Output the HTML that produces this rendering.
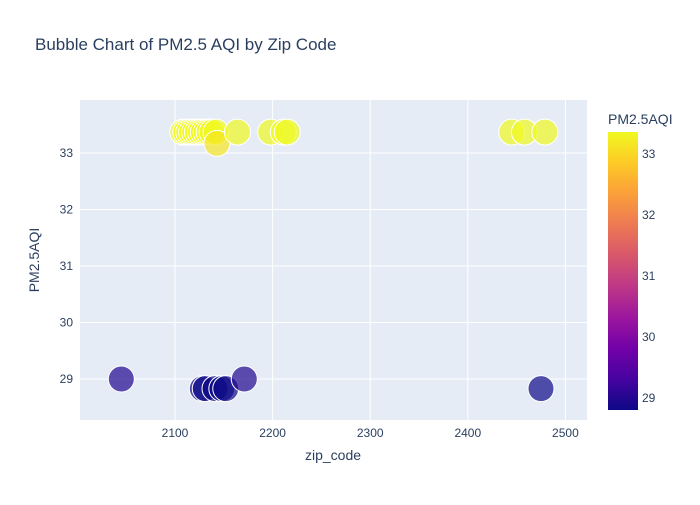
<!DOCTYPE html>
<html><head><meta charset="utf-8"><style>
body{margin:0;background:#fff;font-family:"Liberation Sans",Arial,sans-serif}
svg text{font-family:"Liberation Sans",Arial,sans-serif;fill:#2a3f5f}
</style></head><body>
<svg id="c" width="700" height="500">
<defs><linearGradient id="pl" x1="0" y1="1" x2="0" y2="0">
<stop offset="0" stop-color="#0d0887"/><stop offset="0.111" stop-color="#46039f"/><stop offset="0.222" stop-color="#7201a8"/><stop offset="0.333" stop-color="#9c179e"/><stop offset="0.444" stop-color="#bd3786"/><stop offset="0.556" stop-color="#d8576b"/><stop offset="0.667" stop-color="#ed7953"/><stop offset="0.778" stop-color="#fb9f3a"/><stop offset="0.889" stop-color="#fdca26"/><stop offset="1" stop-color="#f0f921"/></linearGradient></defs>
<text x="35" y="50" font-size="17">Bubble Chart of PM2.5 AQI by Zip Code</text>
<rect x="80" y="100" width="507" height="320" fill="#e5ecf6"/>
<g id="grid"></g><g id="marks"></g><g id="ticks"></g>
<text x="333" y="460" font-size="14" text-anchor="middle">zip_code</text>
<text x="0" y="0" font-size="14" text-anchor="middle" transform="translate(39,260) rotate(-90)">PM2.5AQI</text>
<text x="608" y="124" font-size="14">PM2.5AQI</text>
<rect x="608" y="132" width="30" height="278" fill="url(#pl)"/>
<g id="cb"></g>
</svg>
<script>
const zips=[2045,2108,2111,2114,2117,2120,2123,2126,2129,2132,2135,2138,2142,2143,2164,2198,2211,2215,2445,2458,2479,2128,2131,2141,2148,2152,2171,2475];
const aqi=[29.0,33.37,33.37,33.37,33.37,33.37,33.37,33.37,33.37,33.37,33.37,33.37,33.37,33.17,33.37,33.37,33.37,33.37,33.37,33.37,33.37,28.83,28.83,28.83,28.83,28.83,29.0,28.83];
const xTicks=[2100,2200,2300,2400,2500];
const yTicks=[29,30,31,32,33];
const cbTicks=[29,30,31,32,33];
const NS="http://www.w3.org/2000/svg";
const X=v=>175+(v-2100)*0.976, Y=v=>153-(v-33)*56.5;
const cmin=28.83,cmax=33.37;
const stops=["#0d0887","#46039f","#7201a8","#9c179e","#bd3786","#d8576b","#ed7953","#fb9f3a","#fdca26","#f0f921"];
function col(v){let t=(v-cmin)/(cmax-cmin)*9;t=Math.max(0,Math.min(9,t));const i=Math.min(8,Math.floor(t)),f=t-i;
const a=stops[i],b=stops[i+1];const p=(h,k)=>parseInt(h.substr(1+2*k,2),16);
return "rgb("+[0,1,2].map(k=>Math.round(p(a,k)+(p(b,k)-p(a,k))*f)).join(",")+")";}
function el(t,at,p){const e=document.createElementNS(NS,t);for(const k in at)e.setAttribute(k,at[k]);p.appendChild(e);return e;}
const g=document.getElementById('grid'),m=document.getElementById('marks'),tk=document.getElementById('ticks'),cb=document.getElementById('cb');
xTicks.forEach(v=>{const l=el('line',{x1:X(v),x2:X(v),y1:100,y2:420,stroke:'#fff','stroke-width':1},g);


const t=el('text',{x:X(v),y:437,'font-size':12,'text-anchor':'middle'},tk);t.textContent=v;

});
yTicks.forEach(v=>{const l=el('line',{x1:80,x2:587,y1:Y(v),y2:Y(v),stroke:'#fff','stroke-width':1},g);


const t=el('text',{x:73,y:Y(v)+4,'font-size':12,'text-anchor':'end'},tk);t.textContent=v;

});
zips.forEach((z,i)=>{const c=el('circle',{cx:X(z),cy:Y(aqi[i]),r:13,fill:col(aqi[i]),'fill-opacity':0.7,stroke:'#fff','stroke-width':1},m);

});
cbTicks.forEach(v=>{const y=398-(v-29)*61;const t=el('text',{x:642,y:y+4,'font-size':12},cb);t.textContent=v;

});
</script>
</body></html>
